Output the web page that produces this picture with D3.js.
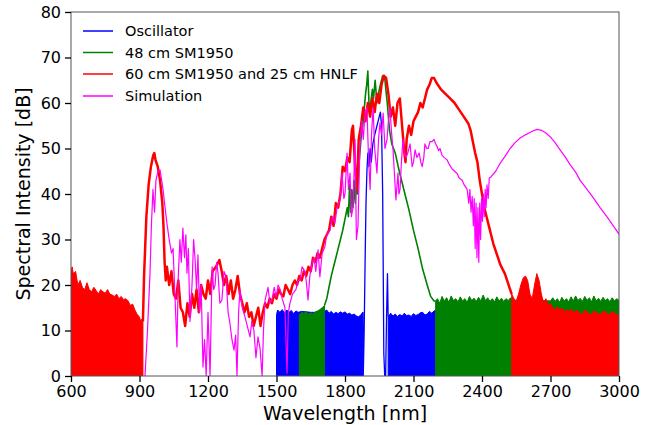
<!DOCTYPE html>
<html>
<head>
<meta charset="utf-8">
<script src="https://cdn.jsdelivr.net/npm/d3@7"></script>
<style>
  body { margin: 0; background: #fff; }
  svg { font-family: "DejaVu Sans", sans-serif; }
</style>
</head>
<body>
<svg id="chart" width="654" height="425"></svg>
<script>
var WIDTH = 654;
var HEIGHT = 425;
var LEFT = 71, RIGHT = 619, TOP = 12, BOTTOM = 376;

var xTicks = [600, 900, 1200, 1500, 1800, 2100, 2400, 2700, 3000];
var yTicks = [0, 10, 20, 30, 40, 50, 60, 70, 80];
var seriesNames = ['Oscillator', '48 cm SM1950', '60 cm SM1950 and 25 cm HNLF', 'Simulation'];
var seriesColors = ['#0000ff', '#008000', '#ff0000', '#ff00ff'];

// noise-floor parts of the measured spectra: [nm, top of the noise band in dB]
var blueFloor1 = [[1500,13.5],[1505,14.5],[1515,14],[1525,14.6],[1535,13.8],[1545,14.5],[1555,14],[1565,14.4],[1575,13.7],[1585,14.3],[1595,14],[1610,14.2],
  [1650,14],[1700,14],[1710,14.2],[1720,14.5],[1730,13.8],[1740,14.2],[1750,13.6],[1760,14],[1770,13.7],[1780,14.1],[1790,13.8],[1800,14.1],[1810,13.6],[1820,13.8],[1830,13.4],[1840,13.6],[1850,13.2],[1860,13],[1870,13.5],[1878,14]];
var blueLine = [[1878,14],[1880,0],[1884,10],[1888,25],[1892,38],[1896,45],[1900,49],[1905,46],[1910,50],[1915,47],[1922,51],[1930,53],
  [1940,55],[1950,57],[1955,58],[1960,55],[1965,40],[1970,5],[1974,0],[1978,0],[1982,13],[1986,22.5],[1989,13]];
var blueFloor2 = [[1989,13],[2000,13.8],[2010,13.2],[2020,13.6],[2030,13.1],[2040,13.5],[2050,13.2],[2060,13.8],[2070,13.3],[2080,13.4],[2090,13.1],
  [2100,13.7],[2110,13.3],[2120,13.5],[2130,13.9],[2140,14],[2150,13.4],[2160,13.6],[2170,14.2],[2180,13.8],[2190,14.3],[2200,14.5]];

var greenFloor1 = [[1600,13.5],[1610,14],[1620,13.8],[1630,14.2],[1640,13.6],[1650,13.9],[1660,13.7],[1670,14.1],[1680,14.3],[1690,14.6],[1700,15],[1710,15.5]];
var greenLine = [[1710,15.5],[1720,17],[1730,19.5],[1740,22],[1750,24],[1760,26],[1770,28],[1780,30],[1790,32],[1800,34.5],[1810,37],[1815,35],
  [1820,42],[1825,36],[1830,41],[1835,37],[1840,43],[1845,38],[1850,42],[1855,40],[1860,46],[1870,52],[1880,56],[1890,62],[1895,64],[1900,67],
  [1905,60],[1910,59],[1920,63],[1925,61],[1932,65],[1940,60],[1946,62],[1955,64],[1965,66],[1975,65],[1985,60],[1995,54],[2005,51],[2020,49],
  [2040,44.5],[2060,40.5],[2080,36.5],[2100,32],[2120,28],[2140,23.5],[2160,20],[2175,17.5],[2190,16.5],[2197,16.5]];
var greenFloor2 = [[2197,16.5],[2205,17],[2215,16],[2225,17.5],[2235,16.5],[2245,17.2],[2255,16.2],[2265,17.6],[2275,16.6],[2285,17],[2295,16.3],
  [2305,17.4],[2315,16.5],[2325,17],[2335,16.2],[2345,17.5],[2355,16.6],[2365,17.1],[2375,16.4],[2385,17.3],[2395,16.5],[2405,17.8],[2415,16.6],
  [2425,17.2],[2435,16.4],[2445,17],[2455,16.3],[2465,17.4],[2475,16.5],[2485,17.1],[2495,16.4],[2505,17],[2515,16.6],[2525,17.2],[2535,16.5],
  [2600,16.8],[2700,16.5],[2710,17.2],[2720,16.4],[2730,17],[2740,16.2],[2750,17.3],[2760,16.5],[2770,17],[2780,16.3],[2790,17.4],[2800,16.5],
  [2810,17.6],[2820,16.6],[2830,17.1],[2840,16.4],[2850,17.5],[2860,16.6],[2870,17.2],[2880,16.3],[2890,17.6],[2900,16.5],[2910,17.1],[2920,16.4],
  [2930,17.3],[2940,16.6],[2950,17],[2960,16.3],[2970,17.2],[2980,16.5],[2990,17],[3000,16.6]];

var redFloor1 = [[600,23],[605,24],[610,22.5],[620,23],[630,20],[640,21],[650,19.5],[660,19],[670,20.5],[680,19],[690,18.5],[700,19.5],
  [710,18.8],[720,18],[730,19],[740,18.5],[750,18.2],[760,19],[770,18],[780,17.8],[790,17.5],[800,18],[810,17],[820,17.5],[830,16.8],
  [840,17],[850,16.5],[860,15.5],[870,15.8],[880,14.5],[890,13.5],[900,13],[905,12],[910,12.5],[915,12]];
var redLine = [[915,12],[920,22],[930,35],[940,42],[950,46],[960,48.5],[965,49],[970,47.5],[980,46],[990,43],[1000,38],[1005,33],[1010,25],
  [1015,21],[1020,24],[1030,20],[1040,23],[1050,18],[1060,17],[1070,21],[1080,15],[1090,14],[1100,11],[1110,16],[1120,13],[1130,18],
  [1140,15],[1150,19],[1160,14],[1170,20],[1180,18],[1190,17],[1200,21],[1210,18],[1220,23],[1235,24],[1250,25.5],[1260,23],[1270,20],
  [1280,22],[1290,18],[1300,21],[1310,17],[1320,19],[1330,22],[1340,18],[1350,16],[1360,14],[1370,16],[1380,13],[1390,14],[1400,11],
  [1410,13],[1420,15],[1430,11],[1440,14],[1450,16],[1460,15],[1470,17],[1480,16],[1490,18],[1500,17],[1510,19],[1520,18],[1530,17.5],
  [1540,20],[1550,19],[1560,18],[1570,20],[1580,21],[1590,20],[1600,22],[1610,21],[1620,23],[1630,22],[1640,24],[1650,23],[1660,26],
  [1670,25],[1680,27],[1690,26],[1700,28],[1710,30],[1720,31],[1730,32],[1740,35],[1750,33],[1760,38],[1770,37],[1780,40],[1790,46],
  [1800,45],[1810,48],[1820,47],[1830,54],[1835,55],[1845,45],[1852,41],[1860,52],[1870,55],[1880,59],[1890,56],[1900,60],[1910,57],
  [1920,61],[1930,58],[1940,62],[1950,60],[1960,64],[1970,66],[1980,65.5],[1990,62],[2000,57],[2010,59],[2020,55],[2030,60],[2040,61],
  [2050,55],[2060,49],[2065,47],[2070,52],[2080,55],[2090,53],[2100,56],[2110,57],[2120,58],[2130,60],[2140,59],[2150,61],[2160,63],
  [2170,64],[2180,65.5],[2190,65.5],[2200,64.5],[2220,63],[2240,62],[2260,61],[2280,60],[2300,58.5],[2320,57],[2340,55.5],[2350,54],
  [2360,51.5],[2370,49],[2380,47],[2390,43],[2400,40],[2410,37],[2420,35],[2430,33],[2440,31],[2450,29],[2460,27.5],[2470,26],
  [2480,24.5],[2490,23.5],[2500,22.5],[2510,21],[2520,19.5],[2530,18]];
var redFloor2 = [[2530,18],[2540,17],[2550,16.5],[2560,18],[2570,20],[2580,21.5],[2590,22],[2600,21],[2610,18],[2620,17],[2630,20],
  [2640,22.5],[2650,21],[2660,18],[2670,16],[2680,17],[2690,15.5],[2700,16],[2710,15],[2720,14.5],[2730,15.2],[2740,14.6],[2750,14.9],
  [2760,14],[2770,14.6],[2780,14.2],[2790,14.7],[2800,13.8],[2810,14.4],[2820,14.3],[2830,13.7],[2840,13.6],[2850,14.4],[2860,14.2],
  [2870,13.6],[2880,13.5],[2890,14.3],[2900,14],[2910,13.5],[2920,13.6],[2930,14.2],[2940,14.1],[2950,13.6],[2960,13.5],[2970,14.2],
  [2980,13.9],[2990,13.4],[3000,13.5]];

var simLine = [[924,0],[935,10],[946,22.6],[952,33],[959,41],[966,36],[972,43],[981,45],[990,45.3],[1003,41],[1012,37],[1020,33.6],
  [1030,30],[1040,27],[1047,28],[1055,18],[1064,6.4],[1070,22],[1077,30],[1083,25],[1090,32.5],[1097,26],[1103,31],[1108,22.6],
  [1114,28],[1121,12],[1130,20],[1137,30],[1143,26],[1150,19],[1156,26.6],[1163,14],[1170,20],[1178,2],[1185,8],[1192,0],[1200,14],
  [1209,0],[1218,24],[1225,19],[1231,20],[1238,25],[1244,22.6],[1252,16],[1261,16.7],[1270,23],[1279,21.8],[1288,14],[1296,11.6],
  [1305,8],[1314,5.7],[1321,9],[1327,0],[1334,14],[1340,19],[1350,15],[1362,13],[1372,11],[1384,8.6],[1392,12],[1401,10],[1410,4],
  [1419,8.6],[1428,6],[1437,0],[1443,10],[1450,16.7],[1463,19.5],[1471,16],[1480,16.7],[1490,19.5],[1498,17.4],[1507,20],[1516,19],
  [1525,17],[1537,15],[1546,0.6],[1552,14],[1559,16],[1570,18],[1585,19],[1595,21],[1603,21],[1612,24],[1625,23],[1632,20],[1638,16.7],
  [1646,22],[1656,24.8],[1665,26],[1672,23],[1682,27.7],[1690,21.8],[1700,27],[1712,28.4],[1720,31],[1734,32],[1745,35],[1756,33.6],
  [1765,37],[1778,38.7],[1787,44.6],[1795,39],[1800,40],[1809,49],[1815,41],[1822,44.6],[1828,35],[1835,37],[1844,52],[1850,30],
  [1857,33],[1865,50],[1874,56],[1880,52],[1888,58],[1896,59],[1903,48],[1910,41],[1916,53],[1923,59],[1930,50],[1940,44.6],[1947,52],
  [1953,55.6],[1960,53],[1967,57.8],[1975,50],[1984,52],[1990,56],[1997,59],[2003,54],[2010,50],[2017,44],[2023,38.7],[2028,42],
  [2032,44.6],[2036,40],[2041,41],[2047,47],[2054,52],[2060,49],[2067,48],[2075,49],[2085,51],[2094,46],[2100,47],[2107,49.7],
  [2115,48],[2125,49],[2132,47],[2138,46],[2145,48],[2150,51],[2158,50],[2164,50],[2172,51.5],[2181,51.5],[2190,52],[2197,51],
  [2203,50.5],[2210,49.5],[2216,50],[2225,48.5],[2235,48],[2247,47.5],[2257,46.5],[2269,45.5],[2280,45],[2291,44.5],[2300,43.5],
  [2313,43],[2322,42],[2335,41],[2342,38],[2347,41],[2352,36],[2357,39.5],[2362,33],[2366,39],[2370,28],[2374,38],[2378,26],[2382,37],
  [2386,25],[2390,38],[2394,30],[2398,39],[2402,34],[2406,40],[2410,35],[2414,41],[2418,37],[2422,42],[2427,39],[2432,43.5],[2440,43.8],
  [2460,45],[2480,46.8],[2500,48.2],[2523,50],[2545,51.3],[2567,52.3],[2590,53],[2610,53.5],[2625,53.9],[2641,54.2],[2660,54],
  [2680,53.4],[2700,52.5],[2720,51.3],[2742,49.7],[2765,48.1],[2785,46.5],[2810,44.8],[2830,43],[2860,41],[2890,39],[2917,37],
  [2950,34.8],[2975,33],[3000,31.2]];

var svg = d3.select('#chart');

var x = d3.scaleLinear().domain([600, 3000]).range([LEFT, RIGHT]);
var y = d3.scaleLinear().domain([0, 80]).range([BOTTOM, TOP]);

svg.append('defs').append('clipPath').attr('id', 'plot-clip')
  .append('rect')
  .attr('x', LEFT).attr('y', TOP)
  .attr('width', RIGHT - LEFT).attr('height', BOTTOM - TOP);

var plot = svg.append('g').attr('clip-path', 'url(#plot-clip)');

var line = d3.line()
  .x(function (d) { return x(d[0]); })
  .y(function (d) { return y(d[1]); });

var area = d3.area()
  .x(function (d) { return x(d[0]); })
  .y0(y(0))
  .y1(function (d) { return y(d[1]); });

function drawFloor (data, color) {
  plot.append('path')
    .datum(data)
    .attr('d', area)
    .attr('fill', color)
    .attr('stroke', color)
    .attr('stroke-width', 1);
}

function drawLine (data, color, width) {
  plot.append('path')
    .datum(data)
    .attr('d', line)
    .attr('fill', 'none')
    .attr('stroke', color)
    .attr('stroke-width', width)
    .attr('stroke-linejoin', 'round');
}

// same order as the original plot: oscillator first, simulation on top
drawFloor(blueFloor1, seriesColors[0]);
drawFloor(blueFloor2, seriesColors[0]);
drawLine(blueLine, seriesColors[0], 1.3);

drawFloor(greenFloor1, seriesColors[1]);
drawFloor(greenFloor2, seriesColors[1]);
drawLine(greenLine, seriesColors[1], 1.6);

drawFloor(redFloor1, seriesColors[2]);
drawFloor(redFloor2, seriesColors[2]);
drawLine(redLine, seriesColors[2], 2.5);

drawLine(simLine, seriesColors[3], 1.2);

// frame
svg.append('rect')
  .attr('x', LEFT).attr('y', TOP)
  .attr('width', RIGHT - LEFT).attr('height', BOTTOM - TOP)
  .attr('fill', 'none')
  .attr('stroke', '#555')
  .attr('stroke-width', 1);

var xAxis = svg.append('g')
  .attr('transform', 'translate(0,' + BOTTOM + ')')
  .call(d3.axisBottom(x).tickValues(xTicks).tickSize(6).tickPadding(4).tickFormat(d3.format('d')));

var yAxis = svg.append('g')
  .attr('transform', 'translate(' + LEFT + ',0)')
  .call(d3.axisLeft(y).tickValues(yTicks).tickSize(6).tickPadding(4));

[xAxis, yAxis].forEach(function (ax) {
  ax.select('.domain').remove();
  ax.selectAll('.tick line').attr('stroke', '#000').attr('stroke-width', 1.3);
  ax.selectAll('.tick text')
    .attr('fill', '#000')
    .style('font-family', '"DejaVu Sans", sans-serif')
    .style('font-size', '16px');
});

svg.append('text')
  .attr('x', (LEFT + RIGHT) / 2)
  .attr('y', 420)
  .attr('text-anchor', 'middle')
  .style('font-size', '19px')
  .text('Wavelength [nm]');

svg.append('text')
  .attr('transform', 'translate(30,' + ((TOP + BOTTOM) / 2) + ') rotate(-90)')
  .attr('text-anchor', 'middle')
  .style('font-size', '19px')
  .text('Spectral Intensity [dB]');

// legend
var legend = svg.append('g');
var legendRows = [31, 52.5, 74, 96];
seriesNames.forEach(function (name, i) {
  legend.append('line')
    .attr('x1', 83).attr('x2', 113)
    .attr('y1', legendRows[i]).attr('y2', legendRows[i])
    .attr('stroke', seriesColors[i])
    .attr('stroke-width', 1.5);
  legend.append('text')
    .attr('x', 125)
    .attr('y', legendRows[i])
    .attr('dy', '0.35em')
    .style('font-size', '14.5px')
    .text(name);
});
</script>
</body>
</html>
